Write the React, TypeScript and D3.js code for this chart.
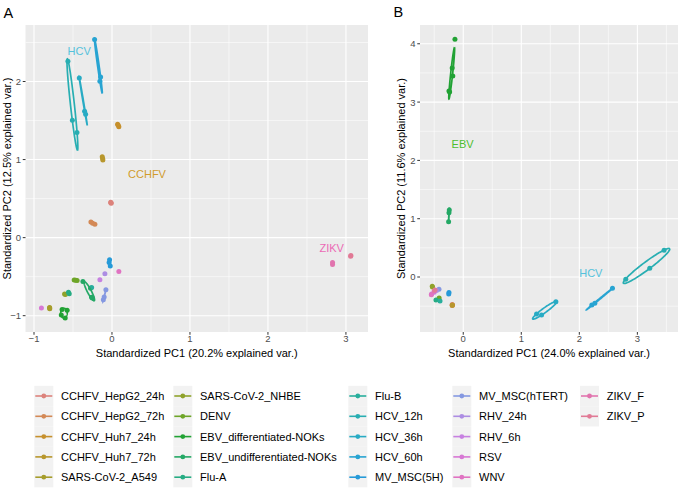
// Externals
import * as d3 from 'd3'
import React, { useRef, useEffect } from 'react'

// Sample groups (legend order, column-major)
const groups = [
  'CCHFV_HepG2_24h', 'CCHFV_HepG2_72h', 'CCHFV_Huh7_24h', 'CCHFV_Huh7_72h', 'SARS-CoV-2_A549',
  'SARS-CoV-2_NHBE', 'DENV', 'EBV_differentiated-NOKs', 'EBV_undifferentiated-NOKs', 'Flu-A',
  'Flu-B', 'HCV_12h', 'HCV_36h', 'HCV_60h', 'MV_MSC(5H)',
  'MV_MSC(hTERT)', 'RHV_24h', 'RHV_6h', 'RSV', 'WNV',
  'ZIKV_F', 'ZIKV_P',
]

// Panel A scores: [group, PC1, PC2]
const scoresA: [string, number, number][] = [
  ['CCHFV_HepG2_24h', -0.014, 0.448], ['CCHFV_HepG2_24h', -0.01, 0.44], ['CCHFV_HepG2_24h', -0.016, 0.452],
  ['CCHFV_HepG2_72h', -0.27, 0.2], ['CCHFV_HepG2_72h', -0.248, 0.185], ['CCHFV_HepG2_72h', -0.219, 0.172],
  ['CCHFV_Huh7_24h', 0.072, 1.454], ['CCHFV_Huh7_24h', 0.08, 1.44], ['CCHFV_Huh7_24h', 0.088, 1.419],
  ['CCHFV_Huh7_72h', -0.125, 1.036], ['CCHFV_Huh7_72h', -0.12, 1.015], ['CCHFV_Huh7_72h', -0.117, 0.994],
  ['SARS-CoV-2_A549', -0.8, -0.895], ['SARS-CoV-2_A549', -0.798, -0.91], ['SARS-CoV-2_A549', -0.8, -0.903],
  ['SARS-CoV-2_NHBE', -0.608, -0.722], ['SARS-CoV-2_NHBE', -0.598, -0.73],
  ['DENV', -0.485, -0.543], ['DENV', -0.466, -0.545], ['DENV', -0.447, -0.548],
  ['EBV_differentiated-NOKs', -0.64, -0.92], ['EBV_differentiated-NOKs', -0.575, -0.93],
  ['EBV_differentiated-NOKs', -0.6, -1.03], ['EBV_differentiated-NOKs', -0.65, -0.99],
  ['EBV_undifferentiated-NOKs', -0.373, -0.563], ['EBV_undifferentiated-NOKs', -0.275, -0.65],
  ['EBV_undifferentiated-NOKs', -0.252, -0.775], ['EBV_undifferentiated-NOKs', -0.262, -0.765],
  ['Flu-A', -0.558, -0.7], ['Flu-A', -0.548, -0.72],
  ['Flu-B', -0.261, -0.639],
  ['HCV_12h', -0.565, 2.26], ['HCV_12h', -0.508, 1.505], ['HCV_12h', -0.449, 1.348],
  ['HCV_36h', -0.419, 2.046], ['HCV_36h', -0.351, 1.62], ['HCV_36h', -0.338, 1.582],
  ['HCV_60h', -0.223, 2.537], ['HCV_60h', -0.146, 2.059], ['HCV_60h', -0.155, 2.004],
  ['MV_MSC(5H)', -0.031, -0.285], ['MV_MSC(5H)', -0.037, -0.32], ['MV_MSC(5H)', -0.022, -0.362],
  ['MV_MSC(hTERT)', -0.078, -0.669], ['MV_MSC(hTERT)', -0.111, -0.797], ['MV_MSC(hTERT)', -0.1, -0.76],
  ['RHV_24h', -0.091, -0.464],
  ['RHV_6h', -0.155, -0.541],
  ['RSV', -0.905, -0.903],
  ['WNV', 0.088, -0.435],
  ['ZIKV_F', 2.828, -0.32], ['ZIKV_F', 2.828, -0.345],
  ['ZIKV_P', 3.064, -0.228], ['ZIKV_P', 3.06, -0.24],
]

// Panel B scores: [group, PC1, PC2]
const scoresB: [string, number, number][] = [
  ['CCHFV_HepG2_24h', -0.19, -0.47], ['CCHFV_HepG2_72h', -0.19, -0.49],
  ['CCHFV_Huh7_24h', -0.185, -0.48], ['CCHFV_Huh7_72h', -0.19, -0.485],
  ['SARS-CoV-2_A549', -0.53, -0.17], ['SARS-CoV-2_NHBE', -0.534, -0.16],
  ['DENV', -0.415, -0.36],
  ['EBV_differentiated-NOKs', -0.143, 4.077], ['EBV_differentiated-NOKs', -0.19, 3.585],
  ['EBV_differentiated-NOKs', -0.18, 3.448], ['EBV_differentiated-NOKs', -0.246, 3.19],
  ['EBV_differentiated-NOKs', -0.235, 3.175],
  ['EBV_undifferentiated-NOKs', -0.24, 1.149], ['EBV_undifferentiated-NOKs', -0.246, 1.1],
  ['EBV_undifferentiated-NOKs', -0.252, 0.949],
  ['Flu-A', -0.47, -0.395], ['Flu-B', -0.4, -0.41],
  ['HCV_12h', 2.8, -0.039], ['HCV_12h', 3.213, 0.15], ['HCV_12h', 3.46, 0.457],
  ['HCV_36h', 1.596, -0.424], ['HCV_36h', 1.349, -0.652], ['HCV_36h', 1.263, -0.635],
  ['HCV_60h', 2.571, -0.194], ['HCV_60h', 2.267, -0.451], ['HCV_60h', 2.215, -0.48],
  ['MV_MSC(5H)', -0.246, -0.265], ['MV_MSC(5H)', -0.25, -0.29],
  ['MV_MSC(hTERT)', -0.418, -0.211],
  ['RHV_24h', -0.46, -0.23], ['RHV_6h', -0.5, -0.26],
  ['RSV', -0.545, -0.29], ['WNV', -0.55, -0.305],
  ['ZIKV_F', -0.5, -0.24], ['ZIKV_P', -0.487, -0.223],
]

// Virus labels: [text, PC1, PC2]
const labelsA: [string, number, number][] = [['HCV', -0.421, 2.387], ['CCHFV', 0.449, 0.811], ['ZIKV', 2.818, -0.132]]
const labelsB: [string, number, number][] = [['EBV', -0.011, 2.281], ['HCV', 2.198, 0.063]]
const labelColor = { HCV: '#55C2DC', CCHFV: '#D19B2C', ZIKV: '#EC69B5', EBV: '#4DBE2E' }

const xTicksA = [-1, 0, 1, 2, 3]
const yTicksA = [-1, 0, 1, 2]
const xTicksB = [0, 1, 2, 3]
const yTicksB = [0, 1, 2, 3, 4]
const xTitles = ['Standardized PC1 (20.2% explained var.)', 'Standardized PC1 (24.0% explained var.)']
const yTitles = ['Standardized PC2 (12.5% explained var.)', 'Standardized PC2 (11.6% explained var.)']

const FONT = '"Liberation Sans", Arial, sans-serif'

// R's hcl() (polar LUV) -> sRGB
const hcl = (h: number, c: number, l: number) => {
  const WX = 95.047, WY = 100, WZ = 108.883
  const den = WX + 15 * WY + 3 * WZ
  const un = 4 * WX / den, vn = 9 * WY / den
  const hr = h * Math.PI / 180
  const U = c * Math.cos(hr), V = c * Math.sin(hr)
  const Y = WY * (l > 7.999592 ? Math.pow((l + 16) / 116, 3) : l / 903.3)
  const u = U / (13 * l) + un, v = V / (13 * l) + vn
  const X = 9 * Y * u / (4 * v)
  const Z = -X / 3 - 5 * Y + 3 * Y / v
  const gam = (t: number) => {
    const s = t <= 0.0031308 ? 12.92 * t : 1.055 * Math.pow(t, 1 / 2.4) - 0.055
    return 255 * Math.max(0, Math.min(1, s))
  }
  return d3.rgb(
    gam((3.240479 * X - 1.53715 * Y - 0.498535 * Z) / WY),
    gam((-0.969256 * X + 1.875992 * Y + 0.041556 * Z) / WY),
    gam((0.055648 * X - 0.204043 * Y + 1.057311 * Z) / WY),
  )
}

// ggplot hue palette, slightly washed out like the reference image
const soften = (c: d3.RGBColor, k = 0.3) => {
  const lum = 0.299 * c.r + 0.587 * c.g + 0.114 * c.b
  return d3.rgb(c.r + (lum - c.r) * k, c.g + (lum - c.g) * k, c.b + (lum - c.b) * k).formatHex()
}

const colorOf = d3.scaleOrdinal<string, string>()
  .domain(groups)
  .range(groups.map((_, i) => soften(hcl(15 + 360 * i / groups.length, 100, 65))))

// covariance ellipse around a group's points
const ellipse = (pts: [number, number][], ed = 1.2) => {
  const n = pts.length
  const mx = d3.mean(pts, p => p[0])!, my = d3.mean(pts, p => p[1])!
  let a = 0, b = 0, d = 0
  pts.forEach(([px, py]) => { a += (px - mx) ** 2; b += (px - mx) * (py - my); d += (py - my) ** 2 })
  a /= n - 1; b /= n - 1; d /= n - 1
  const tr = a + d, disc = Math.sqrt(Math.max(0, tr * tr / 4 - (a * d - b * b)))
  const l1 = tr / 2 + disc, l2 = Math.max(0, tr / 2 - disc)
  let v1 = Math.abs(b) > 1e-12 ? [l1 - d, b] : (a >= d ? [1, 0] : [0, 1])
  const norm = Math.hypot(v1[0], v1[1])
  v1 = [v1[0] / norm, v1[1] / norm]
  const v2 = [-v1[1], v1[0]]
  return d3.range(0, 101).map(k => {
    const t = 2 * Math.PI * k / 100
    const c = ed * Math.sqrt(l1) * Math.cos(t), s = ed * Math.sqrt(l2) * Math.sin(t)
    return [mx + c * v1[0] + s * v2[0], my + c * v1[1] + s * v2[1]] as [number, number]
  })
}

const panels = [
  { tag: 'A', tagX: 3.5, tagY: 17.5, scores: scoresA, labels: labelsA, xTicks: xTicksA, yTicks: yTicksA,
    xDomain: [-1.109, 3.283], yDomain: [-1.209, 2.724], left: 25.5, right: 368, top: 25, bottom: 332,
    yTitleX: 10.5 },
  { tag: 'B', tagX: 393.5, tagY: 16.5, scores: scoresB, labels: labelsB, xTicks: xTicksB, yTicks: yTicksB,
    xDomain: [-0.745, 3.7], yDomain: [-0.943, 4.322], left: 420, right: 678, top: 25, bottom: 332,
    yTitleX: 404.5 },
]

const BiplotPair = () => {
  const ref = useRef<SVGSVGElement | null>(null)

  useEffect(() => {
    const svg = d3.select(ref.current)
    svg.selectAll('*').remove()
    svg.append('rect').attr('width', 682).attr('height', 488).attr('fill', '#FFFFFF')

    panels.forEach((p, pi) => {
      const x = d3.scaleLinear().domain(p.xDomain).range([p.left, p.right])
      const y = d3.scaleLinear().domain(p.yDomain).range([p.bottom, p.top])
      const g = svg.append('g')

      g.append('rect')
        .attr('x', p.left).attr('y', p.top)
        .attr('width', p.right - p.left).attr('height', p.bottom - p.top)
        .attr('fill', '#EBEBEB')

      const halves = (dom: number[]) => d3.range(Math.ceil(dom[0] * 2), Math.floor(dom[1] * 2) + 1).map(k => k / 2)
      const minorX = halves(p.xDomain).filter(v => !Number.isInteger(v))
      const minorY = halves(p.yDomain).filter(v => !Number.isInteger(v))

      // grid
      minorX.forEach(v => g.append('line').attr('x1', x(v)).attr('x2', x(v)).attr('y1', p.top).attr('y2', p.bottom)
        .attr('stroke', '#FFFFFF').attr('stroke-width', 0.55))
      minorY.forEach(v => g.append('line').attr('x1', p.left).attr('x2', p.right).attr('y1', y(v)).attr('y2', y(v))
        .attr('stroke', '#FFFFFF').attr('stroke-width', 0.55))
      p.xTicks.forEach(v => g.append('line').attr('x1', x(v)).attr('x2', x(v)).attr('y1', p.top).attr('y2', p.bottom)
        .attr('stroke', '#FFFFFF').attr('stroke-width', 1.1))
      p.yTicks.forEach(v => g.append('line').attr('x1', p.left).attr('x2', p.right).attr('y1', y(v)).attr('y2', y(v))
        .attr('stroke', '#FFFFFF').attr('stroke-width', 1.1))

      // points
      g.selectAll('.pt')
        .data(p.scores)
        .enter().append('circle')
        .attr('cx', d => x(d[1]))
        .attr('cy', d => y(d[2]))
        .attr('r', 2.5)
        .attr('fill', d => colorOf(d[0]))

      // ellipses
      const line = d3.line<[number, number]>().x(d => x(d[0])).y(d => y(d[1]))
      groups.forEach(grp => {
        const pts = p.scores.filter(s => s[0] === grp).map(s => [s[1], s[2]] as [number, number])
        if (pts.length < 2) return
        g.append('path')
          .attr('d', line(ellipse(pts)))
          .attr('fill', 'none')
          .attr('stroke', colorOf(grp))
          .attr('stroke-width', 1.7)
      })

      // virus labels
      p.labels.forEach(([t, lx, ly]) => {
        g.append('text')
          .attr('x', x(lx)).attr('y', y(ly)).attr('dy', '0.36em')
          .attr('text-anchor', 'middle')
          .style('font-family', FONT).style('font-size', '11px')
          .attr('fill', labelColor[t])
          .text(t)
      })

      // axes ticks + labels
      p.xTicks.forEach(v => {
        g.append('line').attr('x1', x(v)).attr('x2', x(v)).attr('y1', p.bottom).attr('y2', p.bottom + 2.75)
          .attr('stroke', '#333333').attr('stroke-width', 1)
        g.append('text').attr('x', x(v)).attr('y', p.bottom + 10.2)
          .attr('text-anchor', 'middle').attr('fill', '#4D4D4D')
          .style('font-family', FONT).style('font-size', '9.5px')
          .text(v < 0 ? `\u2212${-v}` : `${v}`)
      })
      p.yTicks.forEach(v => {
        g.append('line').attr('x1', p.left - 2.75).attr('x2', p.left).attr('y1', y(v)).attr('y2', y(v))
          .attr('stroke', '#333333').attr('stroke-width', 1)
        g.append('text').attr('x', p.left - 4.5).attr('y', y(v)).attr('dy', '0.36em')
          .attr('text-anchor', 'end').attr('fill', '#4D4D4D')
          .style('font-family', FONT).style('font-size', '9.5px')
          .text(v < 0 ? `\u2212${-v}` : `${v}`)
      })

      // titles
      g.append('text')
        .attr('x', (p.left + p.right) / 2).attr('y', 357)
        .attr('text-anchor', 'middle')
        .style('font-family', FONT).style('font-size', '11px')
        .text(xTitles[pi])
      g.append('text')
        .attr('transform', `translate(${p.yTitleX},${(p.top + p.bottom) / 2}) rotate(-90)`)
        .attr('text-anchor', 'middle')
        .style('font-family', FONT).style('font-size', '11px')
        .text(yTitles[pi])
      g.append('text')
        .attr('x', p.tagX).attr('y', p.tagY)
        .style('font-family', FONT).style('font-size', '14.5px')
        .text(p.tag)
    })

    // legend: 5 rows, column-major
    const colKeyX = [34.3, 173.3, 348.3, 452.3, 580]
    const rowY = (r: number) => 396 + r * 20.3
    const leg = svg.append('g')
    groups.forEach((grp, i) => {
      const col = Math.floor(i / 5), row = i % 5
      const kx = colKeyX[col], cy = rowY(row)
      leg.append('rect').attr('x', kx).attr('y', cy - 10.15).attr('width', 19).attr('height', 20.3).attr('fill', '#F2F2F2')
      leg.append('line').attr('x1', kx + 1).attr('x2', kx + 18).attr('y1', cy).attr('y2', cy)
        .attr('stroke', colorOf(grp)).attr('stroke-width', 1.6)
      leg.append('circle').attr('cx', kx + 9.5).attr('cy', cy).attr('r', 2.4).attr('fill', colorOf(grp))
      leg.append('text').attr('x', kx + 26.7).attr('y', cy).attr('dy', '0.36em')
        .style('font-family', FONT).style('font-size', '11px')
        .text(grp)
    })
  }, [])

  return (
    <svg ref={ref} width={682} height={488} style={{ position: 'absolute', left: 0, top: 0 }} />
  )
}

export default BiplotPair
